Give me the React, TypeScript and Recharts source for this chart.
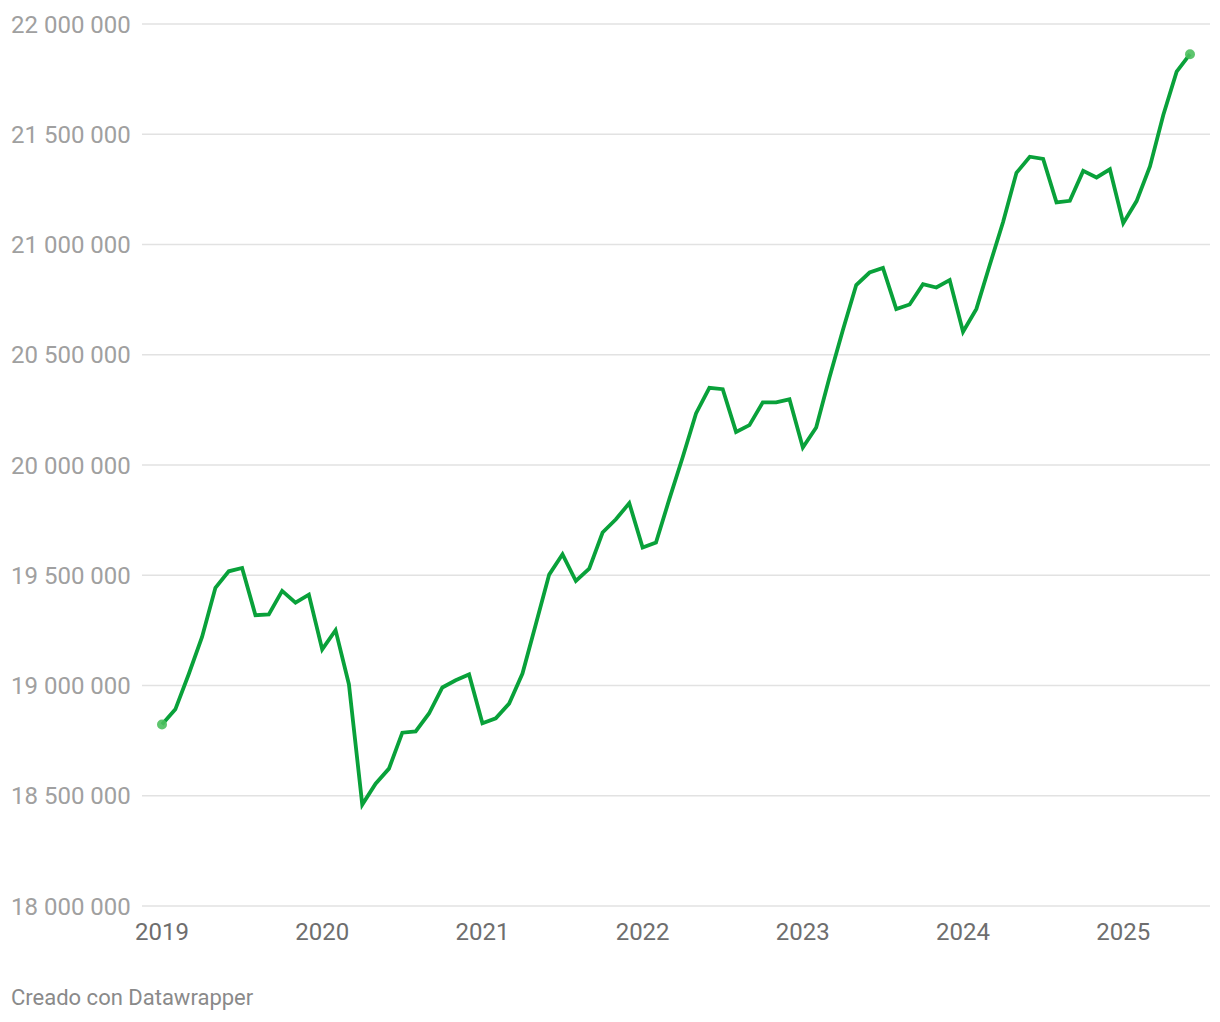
import React from "react";
import { LineChart, Line, XAxis, YAxis, CartesianGrid } from "recharts";

// monthly series, Jan 2019 .. Jun 2025
const START_YEAR = 2019;
const values = [
  18823000, 18892000, 19051000, 19220000, 19443000, 19518000, 19533000, 19319000, 19322000, 19429000, 19376000, 19412000,
  19164000, 19251000, 19006000, 18460000, 18555000, 18623000, 18786000, 18792000, 18873000, 18991000, 19024000, 19050000,
  18829000, 18851000, 18918000, 19054000, 19278000, 19503000, 19595000, 19474000, 19530000, 19694000, 19754000, 19827000,
  19626000, 19648000, 19845000, 20035000, 20234000, 20350000, 20344000, 20150000, 20181000, 20284000, 20284000, 20298000,
  20079000, 20170000, 20398000, 20612000, 20816000, 20873000, 20894000, 20707000, 20728000, 20820000, 20805000, 20839000,
  20604000, 20708000, 20907000, 21102000, 21325000, 21398000, 21388000, 21191000, 21198000, 21334000, 21304000, 21341000,
  21097000, 21197000, 21354000, 21587000, 21784000, 21863000,
];
const yearTicks = [2019, 2020, 2021, 2022, 2023, 2024, 2025];
const yTicks = [18000000, 18500000, 19000000, 19500000, 20000000, 20500000, 21000000, 21500000, 22000000];

const data = values.map((v, i) => ({ t: START_YEAR + i / 12, v }));
const lastIdx = data.length - 1;

const GREEN = "#09a13a";
const FONT = "Roboto, sans-serif";

const fmt = (n: number) => String(n).replace(/\B(?=(\d{3})+(?!\d))/g, " ");

const YTick = (props: any) => {
  const { y, payload } = props;
  return (
    <text x={11} y={y} dy={8.5} textAnchor="start" fontFamily={FONT} fontSize={24} fill="#a0a0a0">
      {fmt(payload.value)}
    </text>
  );
};

const XTick = (props: any) => {
  const { x, y, payload } = props;
  return (
    <text x={x} y={y} dy={26} textAnchor="middle" fontFamily={FONT} fontSize={24} fill="#6e6e6e">
      {payload.value}
    </text>
  );
};

const EndDot = (props: any) => {
  const { cx, cy, index } = props;
  if (index !== 0 && index !== lastIdx) return <g key={"d" + index} />;
  return <circle key={"d" + index} cx={cx} cy={cy} r={5} fill="#4cbf5e" fillOpacity={0.9} />;
};

export default function App() {
  return (
    <div style={{ position: "absolute", left: 0, top: 0, width: 1220, height: 1022, background: "#fff" }}>
      <LineChart width={1210} height={950} data={data} margin={{ top: 24, right: 0, left: 0, bottom: 0 }}>
        <CartesianGrid vertical={false} stroke="#e2e2e2" strokeWidth={1.5} />
        <XAxis
          dataKey="t"
          type="number"
          domain={[START_YEAR, START_YEAR + lastIdx / 12]}
          ticks={yearTicks}
          padding={{ left: 20, right: 20 }}
          axisLine={false}
          tickLine={false}
          height={44}
          tick={<XTick />}
        />
        <YAxis
          type="number"
          domain={[18000000, 22000000]}
          ticks={yTicks}
          width={142}
          axisLine={false}
          tickLine={false}
          tick={<YTick />}
        />
        <Line
          type="linear"
          dataKey="v"
          stroke={GREEN}
          strokeWidth={3.8}
          dot={EndDot}
          activeDot={false}
          isAnimationActive={false}
        />
      </LineChart>
      <div
        style={{
          position: "absolute",
          left: 11,
          top: 987,
          fontFamily: FONT,
          fontSize: 22,
          lineHeight: "22px",
          color: "#8a8a8a",
        }}
      >
        Creado con Datawrapper
      </div>
    </div>
  );
}
